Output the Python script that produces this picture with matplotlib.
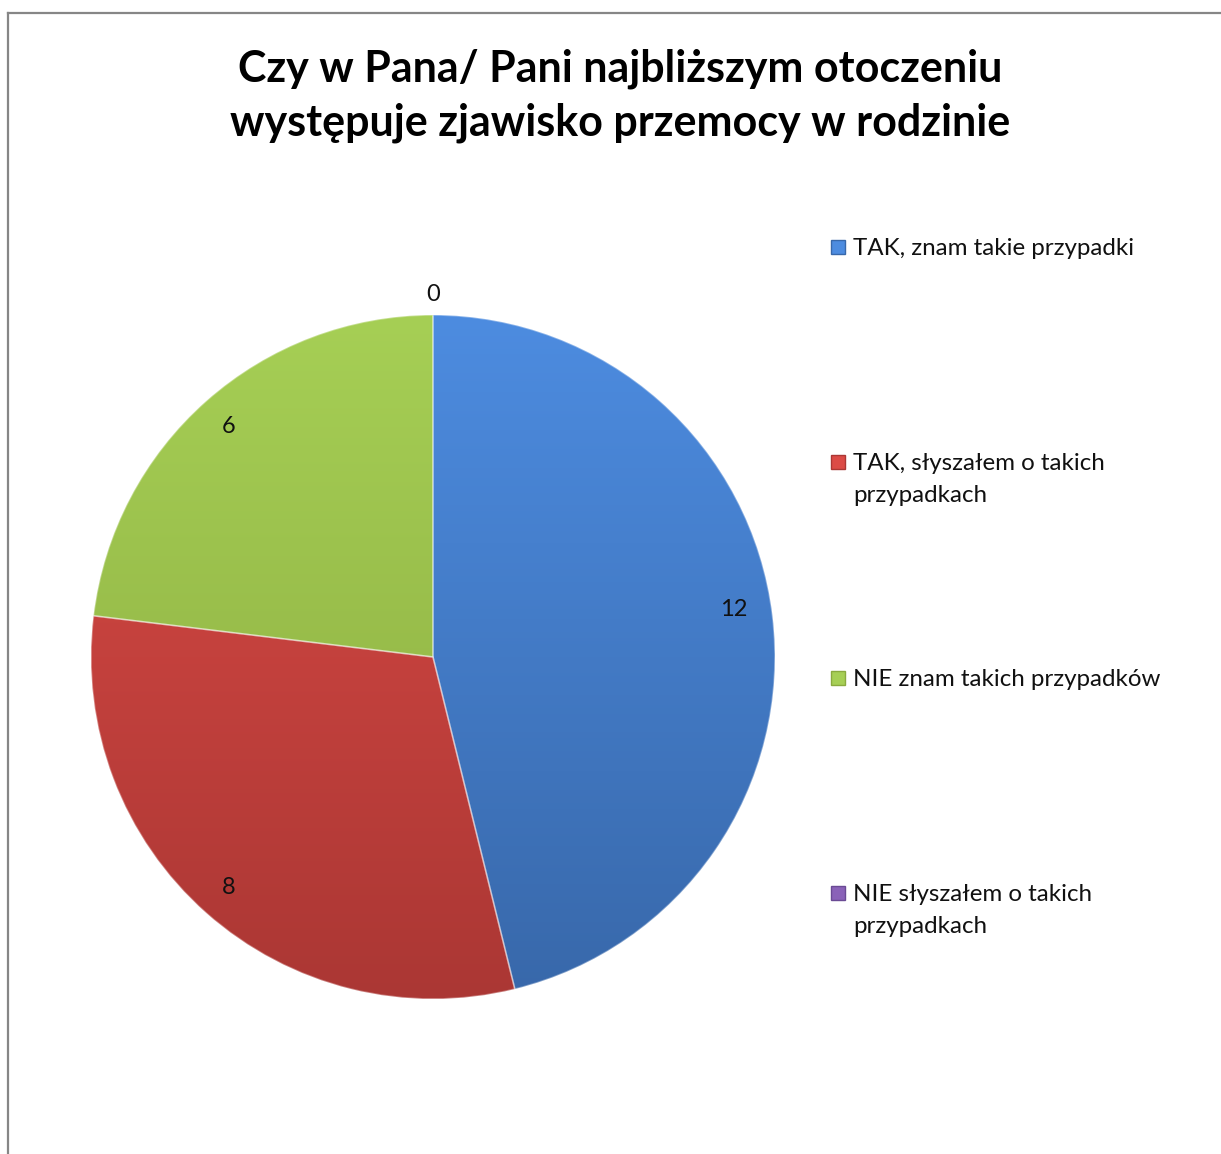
import numpy as np
import matplotlib
matplotlib.use("Agg")
from matplotlib import pyplot as plt
from matplotlib.patches import Rectangle
from matplotlib.lines import Line2D
from matplotlib.colors import LinearSegmentedColormap

plt.rcParams['font.family'] = ['Lato', 'DejaVu Sans']

# data
categories = ['TAK, znam takie przypadki', 'TAK, słyszałem o takich\nprzypadkach',
              'NIE znam takich przypadków', 'NIE słyszałem o takich\nprzypadkach']
values = [12, 8, 6, 0]
top_colors = ['#4d8ce0', '#dc4b46', '#a6cf55', '#8a62b8']
bot_colors = ['#3868aa', '#ab3734', '#8aaa3f', '#6a4a94']
title = 'Czy w Pana/ Pani najbliższym otoczeniu\nwystępuje zjawisko przemocy w rodzinie'

W, H = 1221, 1154
fig = plt.figure(figsize=(W / 100, H / 100), dpi=100)

# pie axes: center (433,657) px, radius 342 px
cx, cy, r = 433, 657, 342
ax = fig.add_axes([(cx - r) / W, (H - cy - r) / H, 2 * r / W, 2 * r / H])

# wedges clockwise from top: blue(12), red(8), green(6), purple(0)
wedges, texts = ax.pie(values, labels=[str(v) for v in values], startangle=90,
                       counterclock=False, labeldistance=0.9,
                       colors=top_colors, radius=1,
                       wedgeprops=dict(linewidth=1.2),
                       textprops=dict(fontsize=17, color='#111111'))

# vertical gradient fill per wedge
grad = np.linspace(1, 0, 256).reshape(-1, 1)
for w, t, b in zip(wedges, top_colors, bot_colors):
    if w.theta1 == w.theta2:
        continue
    cmap = LinearSegmentedColormap.from_list('g', [b, t])
    im = ax.imshow(grad, cmap=cmap, extent=[-1, 1, -1, 1], aspect='auto', zorder=w.get_zorder() + 0.1)
    im.set_clip_path(w)
    w.set_facecolor('none')
    w.set_zorder(w.get_zorder() + 0.2)
    w.set_edgecolor((1, 1, 1, 0.35))

for t, v, w in zip(texts, values, wedges):
    t.set_ha('center')
    t.set_va('center')
    if v == 0:
        a = np.deg2rad((w.theta1 + w.theta2) / 2)
        t.set_position((1.06 * np.cos(a), 1.06 * np.sin(a)))
    elif v == 12:
        a = np.deg2rad((w.theta1 + w.theta2) / 2 + 2)
        t.set_position((0.89 * np.cos(a), 0.89 * np.sin(a)))

ax.set_xlim(-1, 1)
ax.set_ylim(-1, 1)
ax.set_aspect('equal')
ax.axis('off')

# title
fig.text(620 / W, 1 - 96 / H, title, ha='center', va='center', fontsize=31,
         fontweight='bold', linespacing=1.4, color='#000000')

# legend
leg_y = [247, 462, 678, 893]
for i, (lab, yy) in enumerate(zip(categories, leg_y)):
    fig.patches.append(Rectangle((831 / W, 1 - (yy + 7) / H), 14 / W, 14 / H,
                                 transform=fig.transFigure, facecolor=top_colors[i],
                                 edgecolor=bot_colors[i], linewidth=1))
    fig.text(853 / W, 1 - (yy - 9) / H, lab, ha='left', va='top', fontsize=17.4,
             linespacing=1.62, color='#111111')

# frame (only top and left visible)
bc = '#868686'
fig.add_artist(Line2D([8 / W, 1], [1 - 13 / H, 1 - 13 / H], color=bc, lw=1.6, transform=fig.transFigure))
fig.add_artist(Line2D([8 / W, 8 / W], [0, 1 - 13 / H], color=bc, lw=1.6, transform=fig.transFigure))

fig.savefig('out.png', dpi=100, facecolor='white')
